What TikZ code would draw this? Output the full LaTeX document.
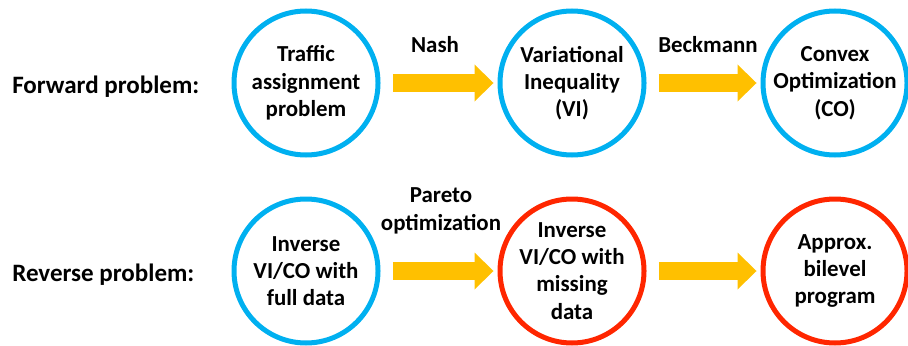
\documentclass[tikz,border=0pt]{standalone}
\usepackage{fontspec}
\setmainfont{Carlito}
\usetikzlibrary{arrows.meta, positioning}
\definecolor{ringblue}{RGB}{0,176,240}
\definecolor{ringred}{RGB}{255,38,0}
\definecolor{arrowgold}{RGB}{255,192,0}

\tikzset{
  stage/.style={circle, draw=ringblue, line width=0.125cm, minimum size=3.6cm,
    inner sep=0pt, align=center, font=\bfseries\fontsize{16.3}{19.4}\selectfont},
  hardstage/.style={stage, draw=ringred},
  flow/.style={draw=arrowgold, line width=0.45cm,
    -{Triangle[width=0.925cm, length=0.475cm, line width=0pt]},
    shorten <=0.31cm, shorten >=0.1cm},
  rowlabel/.style={anchor=west, inner sep=0pt, font=\bfseries\fontsize{17.8}{20}\selectfont},
  steplabel/.style={inner sep=0pt, align=center, font=\bfseries\fontsize{16.3}{19.4}\selectfont}
}

\begin{document}
\begin{tikzpicture}
    \useasboundingbox (0,0) rectangle (22.7,8.625);

    % --- Forward problem ---
    \node[rowlabel] (fwd) at (0.3, 6.45) {Forward problem:};

    \node[stage] (tap) at (7.65, 6.55) {Traffic\\assignment\\problem};
    \node[stage] (vi) at (14.3, 6.55) {Variational\\Inequality\\(VI)};
    \node[stage] (co) at (20.875, 6.55) {Convex\\Optimization\\(CO)};

    \draw[flow] (tap) -- (vi);
    \draw[flow] (vi) -- (co);

    \node[steplabel] (nash) at (10.875, 7.5) {Nash};
    \node[steplabel] (beck) at (17.7, 7.5) {Beckmann};

    % --- Reverse problem ---
    \node[rowlabel] (rev) at (0.3, 1.75) {Reverse problem:};

    \node[stage] (full) at (7.65, 1.85) {Inverse\\VI/CO with\\full data};
    \node[hardstage] (miss) at (14.3, 1.85) {Inverse\\VI/CO with\\missing\\data};
    \node[hardstage] (bilevel) at (20.875, 1.85) {Approx.\\bilevel\\program};

    \draw[flow] (full) -- (miss);
    \draw[flow] (miss) -- (bilevel);

    \node[steplabel] (pareto) at (11.025, 3.35) {Pareto\\optimization};
\end{tikzpicture}
\end{document}
